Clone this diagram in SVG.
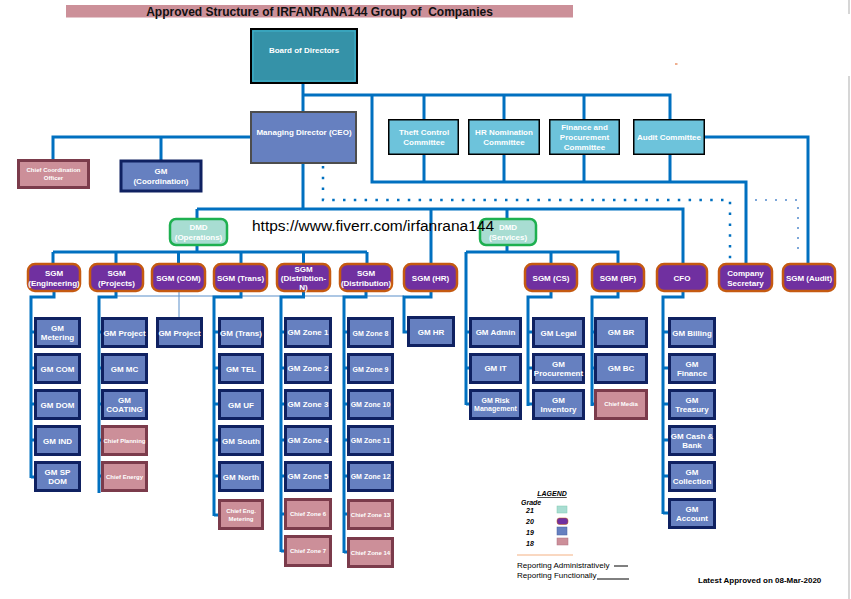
<svg xmlns="http://www.w3.org/2000/svg" width="851" height="599" viewBox="0 0 851 599">
<style>
text{font-family:"Liberation Sans",Arial,sans-serif}
.w{fill:#fff;font-weight:bold;font-size:8px;text-anchor:middle}
.s6{font-size:6px}
.s7{font-size:7px}
.gm{fill:#6680C0;stroke:#0F2161;stroke-width:3}
.pk{fill:#CC8F99;stroke:#7B3B4B;stroke-width:3}
.cm{fill:#6DC3DB;stroke:#000;stroke-width:1.5}
.sgm{fill:#7030A0;stroke:#C55A11;stroke-width:2.5}
.dmd{fill:#A8DDD2;stroke:#1EB050;stroke-width:2.5}
.ln{fill:none;stroke:#0070C0;stroke-width:3}
.th{fill:none;stroke:#5B8FC9;stroke-width:1}
.dot{fill:none;stroke:#0070C0;stroke-width:2.5;stroke-dasharray:2.5 8.3}
.dotl{fill:none;stroke:#7DA7D9;stroke-width:2;stroke-dasharray:2 8}
</style>
<rect width="851" height="599" fill="#fff"/>
<line x1="849" y1="0" x2="849" y2="14" stroke="#c8c8c8" stroke-width="1.5"/>
<line x1="849" y1="76" x2="849" y2="599" stroke="#c8c8c8" stroke-width="1.5"/>
<rect x="675" y="63.5" width="2.5" height="1" fill="#E06020"/>
<g id="title">
<rect x="66" y="5" width="507" height="12.5" fill="#CC9099"/>
<text x="319.5" y="15.5" font-size="12" font-weight="bold" text-anchor="middle" fill="#111" xml:space="preserve">Approved Structure of IRFANRANA144 Group of  Companies</text>
</g>
<g id="connectors">
<path class="ln" d="M303 83V111M303 95H670V120M372 95V182H746V263M424 95V119M504 95V119M584 95V119M424 155V182M504 155V182M584 155V182M670 155V182M705 137H808V263"/>
<path class="ln" d="M250 137H53V160M161 137V160"/>
<path class="ln" d="M303 164V209M197 209H683V263M197 209V218M431 209V263M507 209V218"/>
<path class="ln" d="M197 246V252M53 252H367M53 252V263M116 252V263M178.5 252V263M241 252V263M303.5 252V263M367 252V263"/>
<path class="ln" d="M507 246V252M466 252H618V263M551 252V263M466 252V405"/>
<path class="dot" d="M323 166V200H730V262"/>
<path class="dotl" d="M755 200H798V256"/>
<path class="th" d="M116 296H404"/>
<path class="th" d="M179 292V317" stroke-width="1.5"/>
<path class="ln" d="M54 292V297H31V478M31 332H35M31 368H35M31 404H35M31 440H35M31 477H35"/>
<path class="ln" d="M116 292V297H99V493M99 332H102M99 368H102M99 404H102M99 440H102M99 476H102"/>
<path class="ln" d="M241 292V297H214V516M214 332H219M214 368H219M214 404H219M214 440H219M214 476H219M214 515H219"/>
<path class="ln" d="M303.5 292V297H281V552M281 332H285M281 368H285M281 404H285M281 440H285M281 476H285M281 514H285M281 551H285"/>
<path class="ln" d="M366 292V297H344V553M344 332H348M344 368H348M344 404H348M344 440H348M344 476H348M344 514H348M344 552H348"/>
<path class="ln" d="M431 292V297H404V332H408"/>
<path class="ln" d="M466 332H470M466 368H470M466 404H470"/>
<path class="ln" d="M551 292V297H528V406M528 332H533M528 368H533M528 404H533"/>
<path class="ln" d="M618 292V297H592V406M592 332H595M592 368H595M592 404H595"/>
<path class="ln" d="M683 292V297H663V514M663 332H669M663 368H669M663 404H669M663 440H669M663 476H669M663 513H669"/>
</g>
<g id="board">
<rect x="251" y="29" width="106" height="54" fill="#3592A8" stroke="#000" stroke-width="2"/>
<rect x="253" y="31" width="102" height="50" fill="none" stroke="#3FB5CF" stroke-width="1"/>
<text class="w" x="304" y="53">Board of Directors</text>
</g>
<g id="md">
<rect x="251" y="112" width="105" height="51" fill="#6680C0" stroke="#4D4D4D" stroke-width="2"/>
<text class="w" x="304" y="135">Managing Director (CEO)</text>
</g>
<g id="theft"><rect class="cm" x="388.75" y="119.75" width="69.5" height="34.5"/><text class="w" x="424" y="135">Theft Control<tspan x="424" dy="10">Committee</tspan></text></g>
<g id="hrnom"><rect class="cm" x="468.75" y="119.75" width="70.5" height="34.5"/><text class="w" x="504" y="135">HR Nomination<tspan x="504" dy="10">Committee</tspan></text></g>
<g id="finproc"><rect class="cm" x="549.75" y="119.75" width="69.5" height="34.5"/><text class="w" x="584.5" y="130">Finance and<tspan x="584.5" dy="10">Procurement</tspan><tspan x="584.5" dy="10">Committee</tspan></text></g>
<g id="audit"><rect class="cm" x="633.75" y="119.75" width="70.5" height="34.5"/><text class="w" x="669" y="140">Audit Committee</text></g>
<g id="cco"><rect class="pk" x="18.5" y="160.5" width="70" height="27"/><text class="w s6" x="53.5" y="172">Chief Coordination<tspan x="53.5" dy="7.5">Officer</tspan></text></g>
<g id="gmcoord"><rect class="gm" x="121" y="161" width="80" height="30" stroke-width="4"/><text class="w" x="161" y="174">GM<tspan x="161" dy="9.5">(Coordination)</tspan></text></g>
<g id="dmdops"><rect class="dmd" x="170" y="219" width="57" height="26" rx="6"/><text class="w" x="198.5" y="230" fill="#fff">DMD<tspan x="198.5" dy="10">(Operations)</tspan></text></g>
<g id="dmdsvc"><rect class="dmd" x="480" y="219" width="56" height="26" rx="6"/><text class="w" x="508" y="230">DMD<tspan x="508" dy="10">(Services)</tspan></text></g>
<g id="sgm-eng"><rect class="sgm" x="28" y="264" width="52" height="27" rx="7"/><text class="w" x="54" y="276">SGM<tspan x="54" dy="9.5">(Engineering)</tspan></text></g>
<g id="sgm-proj"><rect class="sgm" x="90" y="264" width="53" height="27" rx="7"/><text class="w" x="116.5" y="276">SGM<tspan x="116.5" dy="9.5">(Projects)</tspan></text></g>
<g id="sgm-com"><rect class="sgm" x="152" y="264" width="53" height="27" rx="7"/><text class="w" x="178.5" y="280.5">SGM (COM)</text></g>
<g id="sgm-trans"><rect class="sgm" x="214" y="264" width="53" height="27" rx="7"/><text class="w" x="240.5" y="280.5">SGM (Trans)</text></g>
<g id="sgm-distn"><rect class="sgm" x="277" y="264" width="53" height="27" rx="7"/><text class="w" x="303.5" y="271.5">SGM<tspan x="303.5" dy="9">(Distribtion-</tspan><tspan x="303.5" dy="9">N)</tspan></text></g>
<g id="sgm-dist"><rect class="sgm" x="340" y="264" width="52" height="27" rx="7"/><text class="w" x="366" y="276">SGM<tspan x="366" dy="9.5">(Distribution)</tspan></text></g>
<g id="sgm-hr"><rect class="sgm" x="404" y="264" width="53" height="27" rx="7"/><text class="w" x="430.5" y="280.5">SGM (HR)</text></g>
<g id="sgm-cs"><rect class="sgm" x="525" y="264" width="52" height="27" rx="7"/><text class="w" x="551" y="280.5">SGM (CS)</text></g>
<g id="sgm-bf"><rect class="sgm" x="592" y="264" width="52" height="27" rx="7"/><text class="w" x="618" y="280.5">SGM (BF)</text></g>
<g id="cfo"><rect class="sgm" x="657" y="264" width="50" height="27" rx="7"/><text class="w" x="682" y="280.5">CFO</text></g>
<g id="cosec"><rect class="sgm" x="719" y="264" width="53" height="27" rx="7"/><text class="w" x="745.5" y="276">Company<tspan x="745.5" dy="9.5">Secretary</tspan></text></g>
<g id="sgm-audit"><rect class="sgm" x="783" y="264" width="52" height="27" rx="7"/><text class="w" x="809" y="280.5">SGM (Audit)</text></g>
<g id="gm-metering"><rect class="gm" x="35.5" y="318.5" width="44" height="28"/><text class="w" x="57.5" y="330.5">GM<tspan x="57.5" dy="9.5">Metering</tspan></text></g>
<g id="gm-com"><rect class="gm" x="35.5" y="354.5" width="44" height="28"/><text class="w" x="57.5" y="371.5">GM COM</text></g>
<g id="gm-dom"><rect class="gm" x="35.5" y="390.5" width="44" height="28"/><text class="w" x="57.5" y="407.5">GM DOM</text></g>
<g id="gm-ind"><rect class="gm" x="35.5" y="426.5" width="44" height="28"/><text class="w" x="57.5" y="443.5">GM IND</text></g>
<g id="gm-spdom"><rect class="gm" x="35.5" y="462.5" width="44" height="28"/><text class="w" x="57.5" y="474.5">GM SP<tspan x="57.5" dy="9.5">DOM</tspan></text></g>
<g id="gm-project1"><rect class="gm" x="102.5" y="318.5" width="44" height="28"/><text class="w" x="124.5" y="335.5">GM Project</text></g>
<g id="gm-mc"><rect class="gm" x="102.5" y="354.5" width="44" height="28"/><text class="w" x="124.5" y="371.5">GM MC</text></g>
<g id="gm-coating"><rect class="gm" x="102.5" y="390.5" width="44" height="28"/><text class="w" x="124.5" y="402.5">GM<tspan x="124.5" dy="9.5">COATING</tspan></text></g>
<g id="chief-planning"><rect class="pk" x="102.5" y="426.5" width="44" height="28"/><text class="w s6" x="124.5" y="442.5">Chief Planning</text></g>
<g id="chief-energy"><rect class="pk" x="102.5" y="462.5" width="44" height="28"/><text class="w s6" x="124.5" y="478.5">Chief Energy</text></g>
<g id="gm-project2"><rect class="gm" x="157.5" y="318.5" width="44" height="28"/><text class="w" x="179.5" y="335.5">GM Project</text></g>
<g id="gm-trans"><rect class="gm" x="219.5" y="318.5" width="43" height="28"/><text class="w" x="241" y="335.5">GM (Trans)</text></g>
<g id="gm-tel"><rect class="gm" x="219.5" y="354.5" width="43" height="28"/><text class="w" x="241" y="371.5">GM TEL</text></g>
<g id="gm-uf"><rect class="gm" x="219.5" y="390.5" width="43" height="28"/><text class="w" x="241" y="407.5">GM UF</text></g>
<g id="gm-south"><rect class="gm" x="219.5" y="426.5" width="43" height="28"/><text class="w" x="241" y="443.5">GM South</text></g>
<g id="gm-north"><rect class="gm" x="219.5" y="462.5" width="43" height="28"/><text class="w" x="241" y="479.5">GM North</text></g>
<g id="chief-engmet"><rect class="pk" x="219.5" y="500.5" width="43" height="28"/><text class="w s6" x="241" y="512.5">Chief Eng.<tspan x="241" dy="8">Metering</tspan></text></g>
<g id="zone1"><rect class="gm" x="285.5" y="318.5" width="45" height="28"/><text class="w" x="308" y="335">GM Zone 1</text></g>
<g id="zone2"><rect class="gm" x="285.5" y="354.5" width="45" height="28"/><text class="w" x="308" y="371">GM Zone 2</text></g>
<g id="zone3"><rect class="gm" x="285.5" y="390.5" width="45" height="28"/><text class="w" x="308" y="407">GM Zone 3</text></g>
<g id="zone4"><rect class="gm" x="285.5" y="426.5" width="45" height="28"/><text class="w" x="308" y="443">GM Zone 4</text></g>
<g id="zone5"><rect class="gm" x="285.5" y="462.5" width="45" height="28"/><text class="w" x="308" y="479">GM Zone 5</text></g>
<g id="zone6"><rect class="pk" x="285.5" y="499.5" width="45" height="29"/><text class="w s6" x="308" y="515.5">Chief Zone 6</text></g>
<g id="zone7"><rect class="pk" x="285.5" y="536.5" width="45" height="29"/><text class="w s6" x="308" y="552.5">Chief Zone 7</text></g>
<g id="zone8"><rect class="gm" x="348.5" y="318.5" width="44" height="28"/><text class="w s7" x="370.5" y="335.5">GM Zone 8</text></g>
<g id="zone9"><rect class="gm" x="348.5" y="354.5" width="44" height="28"/><text class="w s7" x="370.5" y="371.5">GM Zone 9</text></g>
<g id="zone10"><rect class="gm" x="348.5" y="390.5" width="44" height="28"/><text class="w s7" x="370.5" y="407">GM Zone 10</text></g>
<g id="zone11"><rect class="gm" x="348.5" y="426.5" width="44" height="28"/><text class="w s7" x="370.5" y="443">GM Zone 11</text></g>
<g id="zone12"><rect class="gm" x="348.5" y="462.5" width="44" height="28"/><text class="w s7" x="370.5" y="479">GM Zone 12</text></g>
<g id="zone13"><rect class="pk" x="348.5" y="500.5" width="44" height="28"/><text class="w s6" x="370.5" y="516.5">Chief Zone 13</text></g>
<g id="zone14"><rect class="pk" x="348.5" y="538.5" width="44" height="28"/><text class="w s6" x="370.5" y="554.5">Chief Zone 14</text></g>
<g id="gm-hr"><rect class="gm" x="408.5" y="317.5" width="45" height="28"/><text class="w" x="431" y="334.5">GM HR</text></g>
<g id="gm-admin"><rect class="gm" x="470.5" y="318.5" width="50" height="28"/><text class="w" x="495.5" y="335">GM Admin</text></g>
<g id="gm-it"><rect class="gm" x="470.5" y="354.5" width="50" height="28"/><text class="w" x="495.5" y="371">GM IT</text></g>
<g id="gm-risk"><rect class="gm" x="470.5" y="390.5" width="50" height="28"/><text class="w s7" x="495.5" y="402.5">GM Risk<tspan x="495.5" dy="8.5">Management</tspan></text></g>
<g id="gm-legal"><rect class="gm" x="533.5" y="318.5" width="50" height="28"/><text class="w" x="558.5" y="336">GM Legal</text></g>
<g id="gm-procurement"><rect class="gm" x="533.5" y="354.5" width="50" height="28"/><text class="w" x="558.5" y="366.5">GM<tspan x="558.5" dy="9.5">Procurement</tspan></text></g>
<g id="gm-inventory"><rect class="gm" x="533.5" y="390.5" width="50" height="28"/><text class="w" x="558.5" y="402.5">GM<tspan x="558.5" dy="9.5">Inventory</tspan></text></g>
<g id="gm-br"><rect class="gm" x="595.5" y="318.5" width="51" height="28"/><text class="w" x="621" y="335">GM BR</text></g>
<g id="gm-bc"><rect class="gm" x="595.5" y="354.5" width="51" height="28"/><text class="w" x="621" y="371">GM BC</text></g>
<g id="chief-media"><rect class="pk" x="595.5" y="390.5" width="51" height="28"/><text class="w s6" x="621" y="406">Chief Media</text></g>
<g id="gm-billing"><rect class="gm" x="669.5" y="318.5" width="45" height="28"/><text class="w" x="692" y="336">GM Billing</text></g>
<g id="gm-finance"><rect class="gm" x="669.5" y="354.5" width="45" height="28"/><text class="w" x="692" y="366.5">GM<tspan x="692" dy="9.5">Finance</tspan></text></g>
<g id="gm-treasury"><rect class="gm" x="669.5" y="390.5" width="45" height="28"/><text class="w" x="692" y="402.5">GM<tspan x="692" dy="9.5">Treasury</tspan></text></g>
<g id="gm-cash"><rect class="gm" x="669.5" y="426.5" width="45" height="28"/><text class="w" x="692" y="438.5">GM Cash &amp;<tspan x="692" dy="9.5">Bank</tspan></text></g>
<g id="gm-collection"><rect class="gm" x="669.5" y="462.5" width="45" height="28"/><text class="w" x="692" y="474.5">GM<tspan x="692" dy="9.5">Collection</tspan></text></g>
<g id="gm-account"><rect class="gm" x="669.5" y="499.5" width="45" height="28"/><text class="w" x="692" y="511.5">GM<tspan x="692" dy="9.5">Account</tspan></text></g>
<g id="legend" font-weight="bold" font-style="italic" font-size="7" fill="#000">
<text x="552" y="496" text-anchor="middle" text-decoration="underline">LAGEND</text>
<text x="521" y="505">Grade</text>
<text x="526" y="513">21</text>
<text x="526" y="524">20</text>
<text x="526" y="535">19</text>
<text x="526" y="546">18</text>
<rect x="557" y="506" width="10" height="7" fill="#A8DDD2" stroke="#7FCBB0" stroke-width="0.5"/>
<rect x="557" y="518" width="11" height="6.5" rx="2.5" fill="#7030A0" stroke="#C55A11" stroke-width="0.5"/>
<rect x="557" y="527" width="10" height="8" fill="#6680C0" stroke="#4A5F9E" stroke-width="0.5"/>
<rect x="557" y="538" width="11" height="7" fill="#CC8F99" stroke="#B07080" stroke-width="0.5"/>
<line x1="517" y1="555" x2="573" y2="555" stroke="#F4B183" stroke-width="1"/>
</g>
<g id="notes" font-size="8" fill="#000">
<text x="517" y="568">Reporting Administratively</text>
<line x1="614" y1="566" x2="628" y2="566" stroke="#000" stroke-width="1"/>
<text x="517" y="578">Reporting Functionally</text>
<line x1="597" y1="579" x2="629" y2="579" stroke="#000" stroke-width="1"/>
<text x="698" y="583" font-weight="bold">Latest Approved on 08-Mar-2020</text>
</g>
<text x="252" y="231" font-size="15.5" fill="#000">https://www.fiverr.com/irfanrana144</text>
</svg>
